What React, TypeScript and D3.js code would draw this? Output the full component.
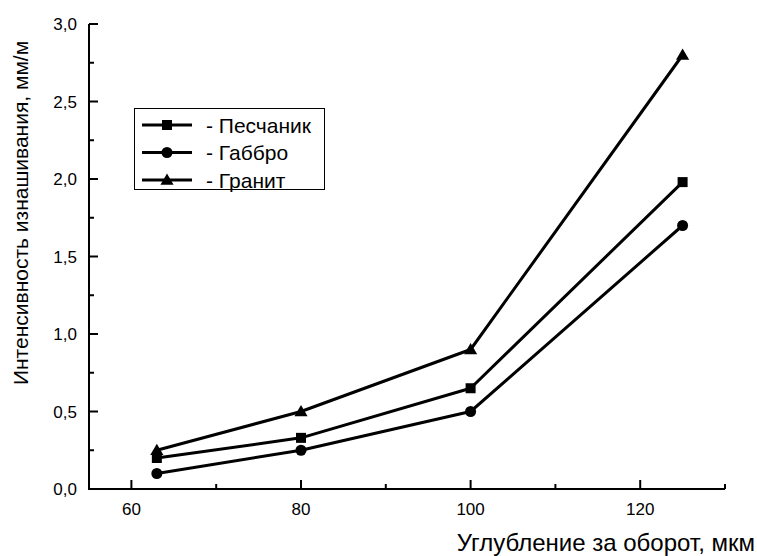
import React from "react";
import * as d3 from "d3";

const xValues = [63, 80, 100, 125];
const sandstone = [0.2, 0.33, 0.65, 1.98];
const gabbro = [0.1, 0.25, 0.5, 1.7];
const granite = [0.25, 0.5, 0.9, 2.8];
const seriesNames = ["- Песчаник", "- Габбро", "- Гранит"];
const seriesShapes = ["square", "circle", "triangle"];
const xMajorTicks = [60, 80, 100, 120];
const xMinorTicks = [70, 90, 110, 130];
const yMajorTicks = [0, 0.5, 1, 1.5, 2, 2.5, 3];
const yMinorTicks = [0.25, 0.75, 1.25, 1.75, 2.25, 2.75];
const xTitle = "Углубление за оборот, мкм";
const yTitle = "Интенсивность изнашивания, мм/м";

const W = 757;
const H = 556;
const left = 89;
const right = 725;
const top = 24;
const bottom = 489;
const FONT = "'Liberation Sans', Arial, sans-serif";

function Marker({ shape, x, y }: { shape: string; x: number; y: number }) {
  if (shape === "square") return <rect x={x - 5} y={y - 5} width={10} height={10} fill="#000" />;
  if (shape === "circle") return <circle cx={x} cy={y} r={5.5} fill="#000" />;
  const s = d3.symbol().type(d3.symbolTriangle).size(75)();
  return <path d={s || ""} transform={`translate(${x},${y + 1})`} fill="#000" />;
}

export default function App() {
  const xs = d3.scaleLinear().domain([55, 130]).range([left, right]);
  const ys = d3.scaleLinear().domain([0, 3]).range([bottom, top]);
  const series = [sandstone, gabbro, granite];
  const line = d3
    .line<number>()
    .x((_, i) => xs(xValues[i]))
    .y((d) => ys(d));

  const fmt = (v: number) => v.toFixed(1).replace(".", ",");

  return (
    <svg width={W} height={H} style={{ position: "absolute", left: 0, top: 0, background: "#fff" }} fontFamily={FONT}>
      <rect x={0} y={0} width={W} height={H} fill="#fff" />
      {series.map((s, k) => (
        <path key={k} d={line(s) || ""} fill="none" stroke="#000" strokeWidth={3} strokeLinejoin="round" />
      ))}
      {series.map((s, k) =>
        s.map((v, i) => <Marker key={`${k}-${i}`} shape={seriesShapes[k]} x={xs(xValues[i])} y={ys(v)} />)
      )}
      <line x1={left} x2={left} y1={top} y2={bottom + 1} stroke="#000" strokeWidth={2} />
      <line x1={left - 1} x2={right} y1={bottom} y2={bottom} stroke="#000" strokeWidth={2} />
      {yMajorTicks.map((t) => (
        <g key={`ym${t}`}>
          <line x1={left} x2={left + 9} y1={ys(t)} y2={ys(t)} stroke="#000" strokeWidth={2} />
          <text x={77} y={ys(t) + 6} textAnchor="end" fontSize={17}>
            {fmt(t)}
          </text>
        </g>
      ))}
      {yMinorTicks.map((t) => (
        <line key={`yn${t}`} x1={left} x2={left + 5} y1={ys(t)} y2={ys(t)} stroke="#000" strokeWidth={2} />
      ))}
      {xMajorTicks.map((t) => (
        <g key={`xm${t}`}>
          <line x1={xs(t)} x2={xs(t)} y1={bottom} y2={bottom - 9} stroke="#000" strokeWidth={2} />
          <text x={xs(t)} y={bottom + 26} textAnchor="middle" fontSize={17}>
            {t}
          </text>
        </g>
      ))}
      {xMinorTicks.map((t) => (
        <line key={`xn${t}`} x1={xs(t)} x2={xs(t)} y1={bottom} y2={bottom - 5} stroke="#000" strokeWidth={2} />
      ))}
      <text x={755} y={551} textAnchor="end" fontSize={24}>
        {xTitle}
      </text>
      <text transform={`translate(28,213) rotate(-90)`} textAnchor="middle" fontSize={21}>
        {yTitle}
      </text>
      <rect x={134.5} y={108.5} width={190} height={81} fill="#fff" stroke="#000" strokeWidth={1} />
      {seriesNames.map((n, k) => {
        const y = 125 + k * 27.5;
        return (
          <g key={n}>
            <line x1={142} x2={192} y1={y} y2={y} stroke="#000" strokeWidth={3} />
            <Marker shape={seriesShapes[k]} x={167} y={y} />
            <text x={206} y={y + 7.5} fontSize={21}>
              {n}
            </text>
          </g>
        );
      })}
    </svg>
  );
}
